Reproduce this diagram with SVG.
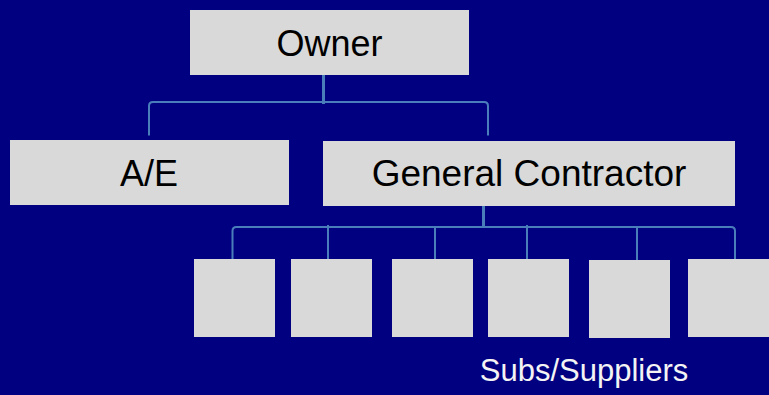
<svg xmlns="http://www.w3.org/2000/svg" width="769" height="395" viewBox="0 0 769 395">
<style>
.box{fill:#d9d9d9}
.lbl{font-family:"Liberation Sans",Arial,sans-serif;font-size:36px;fill:#000;text-anchor:middle}
.cap{font-family:"Liberation Sans",Arial,sans-serif;font-size:31px;fill:#f4f4f4;text-anchor:middle}
.ln{fill:none;stroke:#4a7ebb;stroke-width:2}
.stem{fill:none;stroke:#4a7ebb;stroke-width:3}
</style>
<rect width="769" height="395" fill="#000080"/>
<g id="connectors">
<line class="stem" x1="323.5" y1="71" x2="323.5" y2="104"/>
<path class="ln" d="M149,135.5 L149,106 Q149,102 153,102 L484,102 Q488,102 488,106 L488,135.5"/>
<line class="stem" x1="483.5" y1="202" x2="483.5" y2="227"/>
<path class="ln" d="M232.5,259 L232.5,231 Q232.5,227 236.5,227 L731,227 Q735,227 735,231 L735,259"/>
<line class="ln" x1="328" y1="225" x2="328" y2="259"/>
<line class="ln" x1="435" y1="227" x2="435" y2="261"/>
<line class="ln" x1="527" y1="225" x2="527" y2="259"/>
<line class="ln" x1="637" y1="227" x2="637" y2="261"/>
</g>
<g id="owner"><rect class="box" x="190" y="10" width="279" height="65"/><text class="lbl" x="329.5" y="56">Owner</text></g>
<g id="ae"><rect class="box" x="10" y="140" width="279" height="65"/><text class="lbl" x="149" y="186">A/E</text></g>
<g id="gc"><rect class="box" x="323" y="141" width="412" height="65"/><text class="lbl" x="529" y="186" style="font-size:37px">General Contractor</text></g>
<g id="sub1"><rect class="box" x="194" y="259" width="81" height="78"/></g>
<g id="sub2"><rect class="box" x="291" y="259" width="81" height="78"/></g>
<g id="sub3"><rect class="box" x="392" y="259" width="81" height="78"/></g>
<g id="sub4"><rect class="box" x="488" y="259" width="81" height="78"/></g>
<g id="sub5"><rect class="box" x="589" y="260" width="81" height="78"/></g>
<g id="sub6"><rect class="box" x="688" y="259" width="81" height="78"/></g>
<g id="subs-label"><text class="cap" x="584" y="381">Subs/Suppliers</text></g>
</svg>
